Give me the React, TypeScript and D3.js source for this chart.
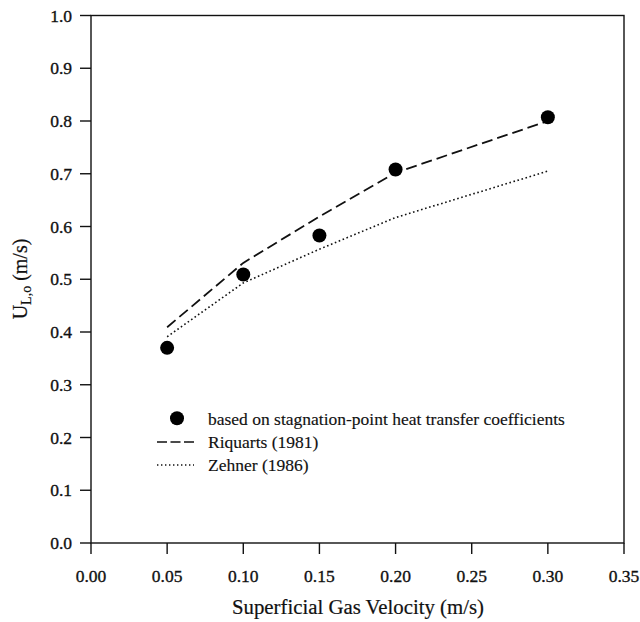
import React from "react";
import * as d3 from "d3";

const xValues = [0.05, 0.10, 0.15, 0.20, 0.30];
const measured = [0.370, 0.509, 0.583, 0.708, 0.807];
const riquarts = [0.409, 0.531, 0.619, 0.702, 0.800];
const zehner = [0.391, 0.493, 0.557, 0.617, 0.705];
const xTicks = [0, 0.05, 0.10, 0.15, 0.20, 0.25, 0.30, 0.35];
const yTicks = [0, 0.1, 0.2, 0.3, 0.4, 0.5, 0.6, 0.7, 0.8, 0.9, 1.0];
const legendLabels = [
  "based on stagnation-point heat transfer coefficients",
  "Riquarts (1981)",
  "Zehner (1986)",
];

const W = 640;
const H = 622;
const left = 91;
const right = 624;
const top = 15.5;
const bottom = 543;
const ts: React.CSSProperties = { fontFamily: '"Liberation Serif"' };
const ink = "#111";

export default function App() {
  const x = d3.scaleLinear().domain([0, 0.35]).range([left, right]);
  const y = d3.scaleLinear().domain([0, 1.0]).range([bottom, top]);
  const line = d3
    .line<[number, number]>()
    .x((d) => x(d[0]))
    .y((d) => y(d[1]));
  const rqPts = xValues.map((v, i) => [v, riquarts[i]] as [number, number]);
  const zhPts = xValues.map((v, i) => [v, zehner[i]] as [number, number]);

  return (
    <svg
      width={W}
      height={H}
      style={{ position: "absolute", left: 0, top: 0, background: "#fff" }}
    >
      <rect x={0} y={0} width={W} height={H} fill="#fff" />
      <rect
        x={left}
        y={top}
        width={right - left}
        height={bottom - top}
        fill="none"
        stroke={ink}
        strokeWidth={1.4}
      />
      {yTicks.map((t) => (
        <g key={"y" + t}>
          <line x1={left - 11} x2={left} y1={y(t)} y2={y(t)} stroke={ink} strokeWidth={1.4} />
          <text
            x={72}
            y={y(t)}
            dy="0.35em"
            textAnchor="end"
            fontSize={17.5}
            fill={ink}
            stroke={ink}
            strokeWidth={0.35}
            style={ts}
          >
            {d3.format(".1f")(t)}
          </text>
        </g>
      ))}
      {xTicks.map((t) => (
        <g key={"x" + t}>
          <line x1={x(t)} x2={x(t)} y1={bottom} y2={bottom + 11} stroke={ink} strokeWidth={1.4} />
          <text
            x={x(t)}
            y={582}
            textAnchor="middle"
            fontSize={17.5}
            fill={ink}
            stroke={ink}
            strokeWidth={0.35}
            style={ts}
          >
            {d3.format(".2f")(t)}
          </text>
        </g>
      ))}
      <text x={358} y={614} textAnchor="middle" fontSize={20.8} fill={ink} stroke={ink} strokeWidth={0.2} style={ts}>
        Superficial Gas Velocity (m/s)
      </text>
      <text
        transform={`translate(27, 279) rotate(-90)`}
        textAnchor="middle"
        fontSize={20}
        fill={ink}
        stroke={ink}
        strokeWidth={0.2}
        style={ts}
      >
        U
        <tspan fontSize={14} dy={4}>L,o</tspan>
        <tspan dy={-4}> (m/s)</tspan>
      </text>
      <path d={line(rqPts) || ""} fill="none" stroke={ink} strokeWidth={1.8} strokeDasharray="11,5" />
      <path d={line(zhPts) || ""} fill="none" stroke={ink} strokeWidth={1.6} strokeDasharray="1.6,2.6" />
      {xValues.map((v, i) => (
        <circle key={"p" + i} cx={x(v)} cy={y(measured[i])} r={7} fill="#000" />
      ))}
      <circle cx={177} cy={418.3} r={7} fill="#000" />
      <text x={208} y={425} fontSize={17.5} fill={ink} stroke={ink} strokeWidth={0.15} style={ts}>{legendLabels[0]}</text>
      <line x1={157} x2={194} y1={442} y2={442} stroke={ink} strokeWidth={1.3} strokeDasharray="10,3.5" />
      <text x={208} y={448} fontSize={17.5} fill={ink} stroke={ink} strokeWidth={0.15} style={ts}>{legendLabels[1]}</text>
      <line x1={157} x2={194} y1={465} y2={465} stroke={ink} strokeWidth={1.3} strokeDasharray="1.4,2.6" />
      <text x={208} y={471} fontSize={17.5} fill={ink} stroke={ink} strokeWidth={0.15} style={ts}>{legendLabels[2]}</text>
    </svg>
  );
}
